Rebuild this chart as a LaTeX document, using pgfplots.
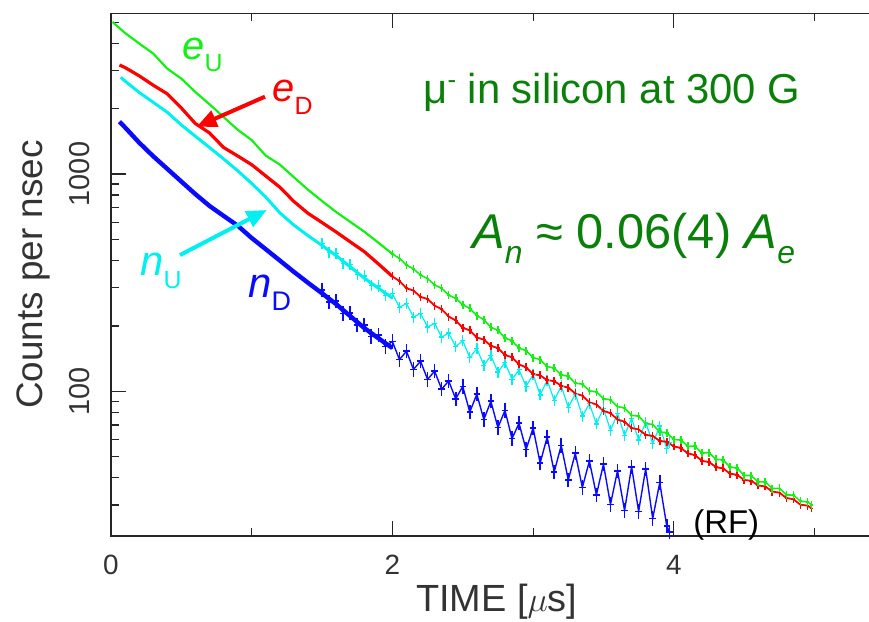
\documentclass[border=0pt]{standalone}
\usepackage{fontspec}
\setmainfont{Liberation Sans}
\usepackage{pgfplots}
\pgfplotsset{compat=1.18}
\usetikzlibrary{arrows.meta}
\definecolor{cgreen}{RGB}{20,240,20}
\definecolor{cred}{RGB}{255,0,0}
\definecolor{ccyan}{RGB}{0,240,240}
\definecolor{cblue}{RGB}{10,10,255}
\definecolor{dgreen}{RGB}{10,128,10}
\newcommand{\sub}[3]{\raisebox{-#1}{\fontsize{#2}{#2}\selectfont #3}}
% data point with a vertical error bar: tall vertical stroke and a short horizontal one
\pgfdeclareplotmark{eplus}{%
  \pgfpathmoveto{\pgfqpoint{0pt}{-\pgfplotmarksize}}%
  \pgfpathlineto{\pgfqpoint{0pt}{\pgfplotmarksize}}%
  \pgfpathmoveto{\pgfqpoint{-0.45\pgfplotmarksize}{0pt}}%
  \pgfpathlineto{\pgfqpoint{0.45\pgfplotmarksize}{0pt}}%
  \pgfusepathqstroke}
\begin{document}
\begin{tikzpicture}
\begin{axis}[
  scale only axis, width=386.5bp, height=261.35bp,
  xmin=0, xmax=5.494, ymode=log, ymin=21.6, ymax=5490,
  clip=false,
  xtick={0,2,4}, minor xtick={1,3,5},
  ytick={100,1000}, yticklabels={100,1000},
  minor ytick={30,40,50,60,70,80,90,200,300,400,500,600,700,800,900,2000,3000,4000,5000},
  major tick length=7.5bp, minor tick length=3.75bp,
  tick style={black!85, line width=0.6bp},
  axis line style={black!85, line width=0.7bp},
  tick align=inside,
  /pgf/number format/assume math mode=true,
  xticklabel style={font=\fontsize{14}{14}\selectfont, text=black!80, inner sep=0pt, anchor=north},
  xticklabel shift=9.5bp,
  yticklabel style={font=\fontsize{14.5}{14.5}\selectfont, text=black!80, inner sep=0pt, rotate=90, anchor=south},
  yticklabel shift=10.5bp,
  xlabel={TIME [$\mu$s]},
  xlabel style={font=\fontsize{19}{19}\selectfont, text=black!80, at={(axis description cs:0.499,-0.1448)}, anchor=base},
  ylabel={Counts per nsec},
  ylabel style={font=\fontsize{18.5}{18.5}\selectfont, text=black!80, at={(axis description cs:-0.088,0.5)}, anchor=base},
]
% ---------- blue n_D ----------
\addplot[color=cblue, line width=2.2bp] coordinates {
(0.06,1741) (0.1,1638) (0.2,1395) (0.3,1207) (0.4,1056) (0.5,923.3) (0.6,807.8)
(0.7,713.3) (0.8,641.9) (0.9,578.9) (1.0,507.5) (1.1,450.7) (1.2,399.9) (1.3,354.6)
(1.4,316.0) (1.5,282.5) (1.6,251.9) (1.7,222.0) (1.8,195.6) (1.9,175.6) (2.0,158.2)};
\addplot[color=cblue, line width=0.7bp, mark=eplus, mark size=3.6bp, mark options={draw=cblue, line width=0.8bp}] coordinates {
(1.5,292.4) (1.55,257.8) (1.6,260.7) (1.65,228.5) (1.7,229.8) (1.75,201.4) (1.8,202.4)
(1.85,179.0) (1.9,181.7) (1.95,161.1) (2.0,169.6) (2.05,140.1) (2.1,152.9) (2.15,126.2)
(2.2,137.6) (2.25,113.5) (2.3,123.9) (2.35,102.3) (2.4,111.7) (2.45,92.3) (2.5,105.4)
(2.55,80.3) (2.6,97.0) (2.65,74.2) (2.7,90.0) (2.75,68.1) (2.8,81.7) (2.85,60.6)
(2.9,71.3) (2.95,54.0) (3.0,67.8) (3.05,46.8) (3.1,61.6) (3.15,42.6) (3.2,56.4)
(3.25,39.1) (3.3,51.9) (3.35,36.1) (3.4,47.8) (3.45,33.4) (3.5,46.2) (3.55,30.2)
(3.6,43.1) (3.65,28.3) (3.7,45.0) (3.75,28.0) (3.8,44.0) (3.85,26.0) (3.9,38.0)
(3.95,24.0) (3.97,22.5)};
% ---------- cyan n_U ----------
\addplot[color=ccyan, line width=1.5bp] coordinates {
(0.07,2786) (0.1,2676) (0.2,2374) (0.3,2138) (0.4,1924) (0.5,1682) (0.6,1491)
(0.7,1324) (0.8,1174) (0.9,1036) (1.0,905) (1.1,783) (1.2,663) (1.3,581.7)
(1.4,520.6) (1.5,469.2) (1.6,421.3) (1.7,374.0) (1.8,331.9) (1.9,298.4) (2.0,268.8)};
\addplot[color=ccyan, line width=0.6bp, mark=eplus, mark size=2.8bp, mark options={draw=ccyan, line width=0.7bp}] coordinates {
(1.5,480.0) (1.55,434.6) (1.6,431.0) (1.65,388.0) (1.7,382.6) (1.75,344.4) (1.8,339.5)
(1.85,307.6) (1.9,305.3) (1.95,276.8) (2.0,281.4) (2.05,243.7) (2.1,253.6) (2.15,219.6)
(2.2,228.5) (2.25,197.7) (2.3,205.6) (2.35,178.0) (2.4,185.3) (2.45,160.5) (2.5,171.0)
(2.55,142.7) (2.6,157.4) (2.65,131.9) (2.7,146.0) (2.75,122.5) (2.8,135.6) (2.85,113.6)
(2.9,125.7) (2.95,105.4) (3.0,119.4) (3.05,96.4) (3.1,112.4) (3.15,90.9) (3.2,105.9)
(3.25,84.5) (3.3,97.2) (3.35,76.9) (3.4,87.7) (3.45,70.9) (3.5,83.6) (3.55,66.1)
(3.6,79.1) (3.65,62.7) (3.7,75.1) (3.75,59.8) (3.8,72.1) (3.85,57.4) (3.9,69.2)
(3.95,54.6) (3.97,58.0)};
% ---------- red e_D ----------
\addplot[color=cred, line width=1.6bp] coordinates {
(0.06,3175) (0.1,3089) (0.2,2831) (0.3,2562) (0.4,2338) (0.5,2012) (0.6,1706)
(0.7,1545) (0.8,1325) (0.9,1211) (1.0,1104) (1.1,979.9) (1.2,869.8) (1.3,747.6)
(1.4,659.5) (1.5,597.8) (1.6,541.2) (1.7,487.5) (1.8,439.4) (1.9,386.2) (2.0,337.7)};
\addplot[color=cred, line width=0.9bp, mark=eplus, mark size=2bp, mark options={draw=cred, line width=0.8bp}] coordinates {
(2.0,337.7) (2.05,322) (2.1,298) (2.15,291) (2.2,272) (2.25,266) (2.3,248) (2.35,239)
(2.4,221) (2.45,212) (2.5,196) (2.55,191) (2.6,177) (2.65,173) (2.7,162) (2.75,158)
(2.8,147) (2.85,143.5) (2.9,133) (2.95,129) (3.0,120) (3.05,118.5) (3.1,112.5)
(3.15,111.5) (3.2,106) (3.25,104) (3.3,97.8) (3.35,95.5) (3.4,89) (3.45,87) (3.5,81.3)
(3.55,79.4) (3.6,74.2) (3.65,72.5) (3.7,67.8) (3.75,66.8) (3.8,63.1) (3.85,62.4)
(3.9,59.1) (3.95,58.6) (4.0,55.8) (4.05,54.9) (4.1,51.8) (4.15,50.9) (4.2,47.9)
(4.25,47.3) (4.3,44.8) (4.35,44.2) (4.4,41.8) (4.45,41.3) (4.5,39.1) (4.55,38.8)
(4.6,36.9) (4.65,36.5) (4.7,34.6) (4.75,34.2) (4.8,32.3) (4.85,31.9) (4.9,30.1)
(4.95,29.8) (4.98,28.94)};
% ---------- green e_U ----------
\addplot[color=cgreen, line width=1.1bp] coordinates {
(0.01,5012) (0.1,4453) (0.2,3987) (0.3,3585) (0.4,3052) (0.5,2748) (0.6,2382)
(0.7,2094) (0.8,1830) (0.9,1599) (1.0,1432) (1.1,1215) (1.2,1105) (1.3,966.3)
(1.4,846.4) (1.5,751.3) (1.6,668.8) (1.7,602.6) (1.8,543.0) (1.9,483.2) (2.0,428.7)};
\addplot[color=cgreen, line width=0.8bp, mark=eplus, mark size=2bp, mark options={draw=cgreen, line width=0.8bp}] coordinates {
(2.0,428.7) (2.05,409) (2.1,381) (2.15,366) (2.2,343) (2.25,330) (2.3,309) (2.35,298)
(2.4,277) (2.45,268) (2.5,250) (2.55,241) (2.6,223) (2.65,214) (2.7,197) (2.75,191)
(2.8,176) (2.85,171) (2.9,158) (2.95,154) (3.0,143) (3.05,140) (3.1,130) (3.15,128)
(3.2,119) (3.25,117.5) (3.3,109) (3.35,108) (3.4,100.5) (3.45,99.5) (3.5,92.5)
(3.55,91.5) (3.6,85) (3.65,84) (3.7,77.5) (3.75,77) (3.8,71) (3.85,70.5) (3.9,65)
(3.95,64.5) (4.0,60) (4.05,59.8) (4.1,55.8) (4.15,56) (4.2,52) (4.25,52.3) (4.3,48.6)
(4.35,48.4) (4.4,44.8) (4.45,44.4) (4.5,41) (4.55,41) (4.6,38.3) (4.65,38.3)
(4.7,35.7) (4.75,35.8) (4.8,33.4) (4.85,33.3) (4.9,31.2) (4.95,31.0) (4.98,29.98)};
% ---------- annotations ----------
\draw[cred, line width=2bp, -{Triangle[length=10bp,width=8.5bp]}] (axis cs:1.0945,2269) -- (axis cs:0.609,1651);
\draw[ccyan, line width=2bp, -{Triangle[length=10bp,width=8.5bp]}] (axis cs:0.4904,423.8) -- (axis cs:1.1066,682.9);
\node[anchor=base west, inner sep=0pt, text=cgreen, font=\fontsize{20}{20}\selectfont] at (axis cs:0.505,3347) {\textit{e}\sub{6bp}{12.5}{U}};
\node[anchor=base west, inner sep=0pt, text=cred, font=\fontsize{20}{20}\selectfont] at (axis cs:1.144,2151) {\textit{e}\sub{6.5bp}{12.5}{D}};
\node[anchor=base west, inner sep=0pt, text=ccyan, font=\fontsize{21}{21}\selectfont] at (axis cs:0.206,343) {\textit{n}\sub{6.5bp}{12.5}{U}};
\node[anchor=base west, inner sep=0pt, text=cblue, font=\fontsize{21}{21}\selectfont] at (axis cs:0.974,271.6) {\textit{n}\sub{6.5bp}{13.5}{D}};
\node[anchor=base west, inner sep=0pt, text=dgreen, font=\fontsize{21}{21}\selectfont] at (axis cs:2.2175,2116) {μ\raisebox{7.5bp}{\fontsize{13}{13}\selectfont -} in silicon at 300 G};
\node[anchor=base west, inner sep=0pt, text=dgreen, font=\fontsize{24.5}{24.5}\selectfont] at (axis cs:2.566,456.6) {\textit{A}\sub{7.5bp}{16}{\textit{n}} ≈ 0.06(4) \textit{A}\sub{7.5bp}{16}{\textit{e}}};
\node[anchor=base west, inner sep=0pt, text=black, font=\fontsize{16.5}{16.5}\selectfont] at (axis cs:4.136,22.28) {(RF)};
\coordinate (bbsw) at (rel axis cs:-0.14360,-0.16453);
\coordinate (bbne) at (rel axis cs:0.98060,1.02544);
\end{axis}
\pgfresetboundingbox
\path[use as bounding box] (bbsw) rectangle (bbne);
\end{tikzpicture}
\end{document}
